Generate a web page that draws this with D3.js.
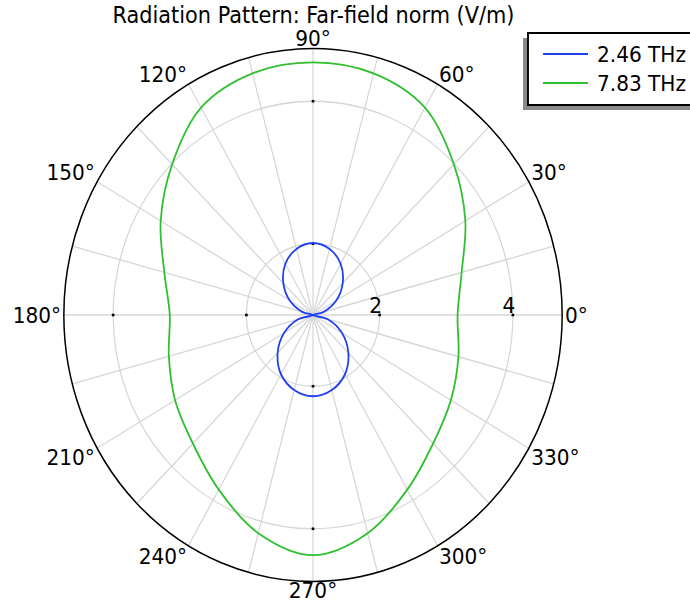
<!DOCTYPE html>
<html>
<head>
<meta charset="utf-8">
<script src="https://cdn.jsdelivr.net/npm/d3@7/dist/d3.min.js"></script>
<style>
  html, body { margin: 0; padding: 0; background: #fff; }
  svg { display: block; }
  text { font-family: "DejaVu Sans", sans-serif; fill: #000; }
</style>
</head>
<body>
<svg id="chart" width="690" height="603"></svg>
<script>
// Far-field norm (V/m) sampled every 15 degrees, 0..345
const angles = d3.range(0, 360, 15);
const seriesNames = ["2.46 THz", "7.83 THz"];
const field246 = [1.00, 1.16, 1.40, 1.63, 1.83, 1.96, 2.01, 1.96, 1.83, 1.63, 1.40, 1.16,
                  1.00, 1.23, 1.50, 1.75, 1.96, 2.09, 2.14, 2.09, 1.96, 1.75, 1.50, 1.23];
const field783 = [3.17, 3.31, 3.64, 3.99, 4.36, 4.51, 4.545, 4.51, 4.36, 3.99, 3.64, 3.31,
                  3.15, 3.24, 3.39, 3.55, 3.83, 4.17, 4.37, 4.17, 3.83, 3.55, 3.39, 3.26];
const radialTicks = [2, 4];
const angleTicks = d3.range(0, 360, 30);
const radialDomain = [1, 4.74];
const titleText = "Radiation Pattern: Far-field norm (V/m)";

const colors = ["#1f3ff0", "#2fbf2f"];
const series = [field246, field783];

const sx = 0.935;                 // horizontal squeeze of the whole drawing
const cx = 313 / sx, cy = 315;    // pole position (drawing units)
const R = 266.5;                  // outer radius
const fontSize = 21.5;
const capH = fontSize * 0.73;

const svg = d3.select("#chart");
svg.append("rect").attr("width", 690).attr("height", 603).attr("fill", "#fff");
const root = svg.append("g").attr("transform", `scale(${sx},1)`);

const r = d3.scaleLinear().domain(radialDomain).range([0, R]).clamp(true);
const rad = d => d * Math.PI / 180;

const plot = root.append("g").attr("transform", `translate(${cx},${cy})`);

// spokes every 15 degrees
plot.append("g").selectAll("line")
  .data(d3.range(0, 360, 15))
  .join("line")
  .attr("x1", 0).attr("y1", 0)
  .attr("x2", d => R * Math.cos(rad(d)))
  .attr("y2", d => -R * Math.sin(rad(d)))
  .attr("stroke", "#d6d6d6").attr("stroke-width", 1.3);

// radial grid circles
plot.append("g").selectAll("circle")
  .data(radialTicks)
  .join("circle")
  .attr("r", d => r(d))
  .attr("fill", "none")
  .attr("stroke", "#d6d6d6").attr("stroke-width", 1.3);

// small tick marks on the four main axes
const tickMarks = [];
[0, 90, 180, 270].forEach(a => radialTicks.forEach(v => tickMarks.push({a, v})));
plot.append("g").selectAll("rect")
  .data(tickMarks)
  .join("rect")
  .attr("x", d => r(d.v) * Math.cos(rad(d.a)) - 1.4)
  .attr("y", d => -r(d.v) * Math.sin(rad(d.a)) - 1.3)
  .attr("width", 2.8).attr("height", 2.6)
  .attr("fill", "#000");

// outer frame
plot.append("circle").attr("r", R).attr("fill", "none")
  .attr("stroke", "#000").attr("stroke-width", 1.6);

// curves
const line = d3.lineRadial()
  .angle(d => rad(90 - d.a))
  .radius(d => r(d.v))
  .curve(d3.curveCatmullRomClosed.alpha(0.5));

series.forEach((vals, i) => {
  const pts = angles.map((a, j) => ({a, v: vals[j]}));
  plot.append("path")
    .attr("d", line(pts))
    .attr("fill", "none")
    .attr("stroke", colors[i])
    .attr("stroke-width", 1.9);
});

// angle labels
const pad = 3;
plot.append("g").selectAll("text")
  .data(angleTicks)
  .join("text")
  .attr("font-size", fontSize)
  .attr("x", d => (R + pad) * Math.cos(rad(d)))
  .attr("y", d => {
    const s = Math.sin(rad(d));
    const y = -(R + pad) * s;
    if (s > 0.01) return y;
    if (s < -0.01) return y + capH - (s < -0.99 ? 2 : 0);
    return y + capH / 2;
  })
  .attr("text-anchor", d => {
    const c = Math.cos(rad(d));
    return c > 0.01 ? "start" : (c < -0.01 ? "end" : "middle");
  })
  .text(d => d + "\u00b0");

// radial labels along 0 degrees
plot.append("g").selectAll("text")
  .data(radialTicks)
  .join("text")
  .attr("font-size", fontSize)
  .attr("x", d => r(d) + 2.5)
  .attr("y", -2)
  .attr("text-anchor", "end")
  .text(d => d);

// title
root.append("text")
  .attr("x", 313.5 / sx).attr("y", 23.5)
  .attr("text-anchor", "middle")
  .attr("font-size", 22.3)
  .text(titleText);

// legend with drop shadow
const lg = root.append("g");
const lx = 528 / sx, ly = 33, lw = 180 / sx, lh = 72;
lg.append("rect").attr("x", lx - 5 / sx).attr("y", ly + 5)
  .attr("width", lw).attr("height", lh).attr("fill", "#8a8a8a");
lg.append("rect").attr("x", lx).attr("y", ly)
  .attr("width", lw).attr("height", lh)
  .attr("fill", "#fff").attr("stroke", "#000").attr("stroke-width", 2);
seriesNames.forEach((name, i) => {
  const y = 54 + i * 29;
  lg.append("line")
    .attr("x1", 543 / sx).attr("x2", 588 / sx)
    .attr("y1", y).attr("y2", y)
    .attr("stroke", colors[i]).attr("stroke-width", 1.9);
  lg.append("text")
    .attr("x", 597 / sx).attr("y", y + 8)
    .attr("font-size", fontSize)
    .text(name);
});
</script>
</body>
</html>
